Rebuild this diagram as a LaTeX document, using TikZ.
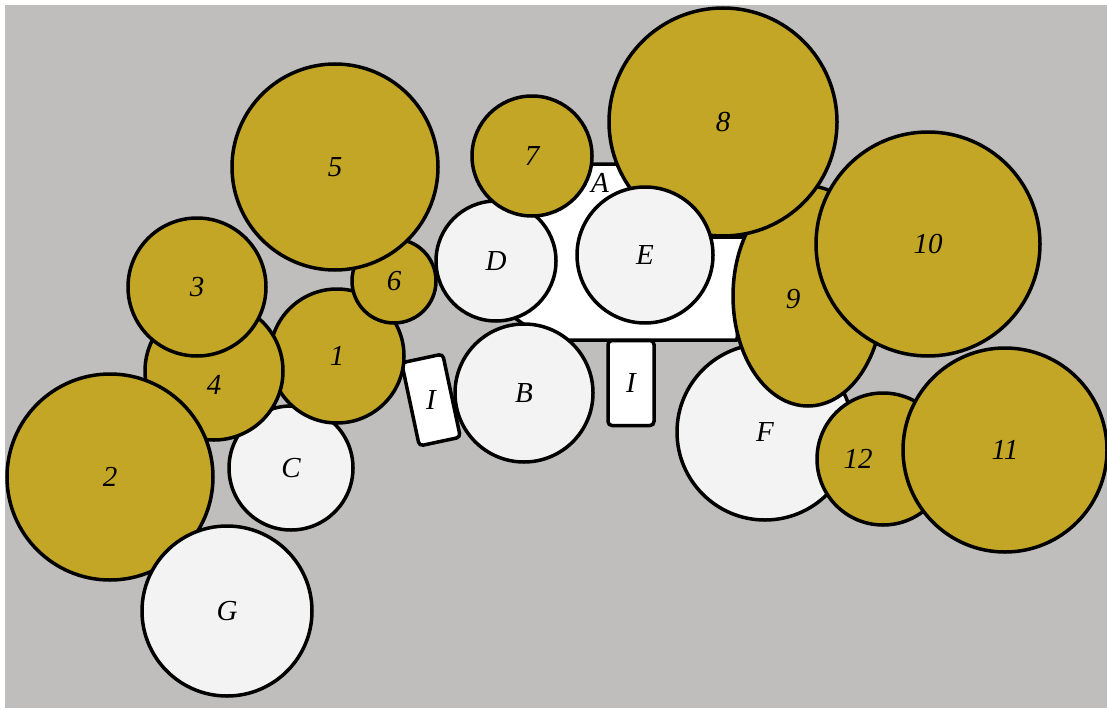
\documentclass[tikz,border=0pt]{standalone}
\usepackage{fontspec}
\setmainfont{Liberation Serif}
\usetikzlibrary{shapes.geometric}
\definecolor{ochre}{RGB}{195,166,38}
\definecolor{bggray}{RGB}{191,190,188}
\definecolor{pale}{RGB}{243,243,243}
\tikzset{
  ball/.style={circle, draw=black, line width=3.5pt, inner sep=0pt, font=\fontsize{29}{29}\selectfont\itshape},
  yball/.style={ball, fill=ochre},
  wball/.style={ball, fill=pale},
  ibox/.style={draw=black, line width=3.5pt, fill=white, rounded corners=4pt, inner sep=0pt, minimum width=42pt, minimum height=85pt, font=\fontsize{29}{29}\selectfont\itshape},
  lbl/.style={inner sep=0pt, font=\fontsize{29}{29}\selectfont\itshape}
}

\begin{document}
\begin{tikzpicture}[x=1pt,y=-1pt]
\useasboundingbox (0,0) rectangle (1107,709);
\fill[white] (0,0) rectangle (1107,709);
\fill[bggray] (5,5) rectangle (1107,708);
% right group
\node[wball, minimum size=176pt] (nF) at (765,432) {F};
\filldraw[fill=white, line width=3.5pt, line join=round] (520,200) -- (590,164) -- (630,164) -- (690,237) -- (746,237) -- (737,340) -- (545,340) -- (515,318) -- cycle;
\node[lbl] (tA) at (600,183) {A};
\node[yball, ellipse, minimum width=150pt, minimum height=220pt, label={[lbl, xshift=-15pt, yshift=-3pt]center:9}] (n9) at (808,296) {};
\node[yball, minimum size=228pt] (n8) at (723,122) {8};
\node[yball, minimum size=224pt] (n10) at (928,244) {10};
\node[yball, minimum size=132pt, label={[lbl, xshift=-25pt]center:12}] (n12) at (883,459) {};
\node[yball, minimum size=204pt] (n11) at (1005,450) {11};
% middle
\node[wball, minimum size=120pt] (nD) at (496,261) {D};
\node[yball, minimum size=120pt] (n7) at (532,156) {7};
\node[wball, minimum size=136pt] (nE) at (645,255) {E};
\node[wball, minimum size=138pt] (nB) at (524,393) {B};
\node[ibox, minimum width=46pt] (nI2) at (631,383) {I};
\node[ibox, rotate=12] (nI1) at (431,400) {\rotatebox{-12}{I}};
% left group
\node[wball, minimum size=124pt] (nC) at (291,468) {C};
\node[yball, minimum size=134pt] (n1) at (337,356) {1};
\node[yball, minimum size=84pt] (n6) at (394,281) {6};
\node[yball, minimum size=206pt] (n5) at (335,167) {5};
\node[yball, minimum size=138pt, label={[lbl, yshift=-14pt]center:4}] (n4) at (214,371) {};
\node[yball, minimum size=138pt] (n3) at (197,287) {3};
\node[yball, minimum size=206pt] (n2) at (110,477) {2};
\node[wball, minimum size=170pt] (nG) at (227,611) {G};
\end{tikzpicture}
\end{document}
